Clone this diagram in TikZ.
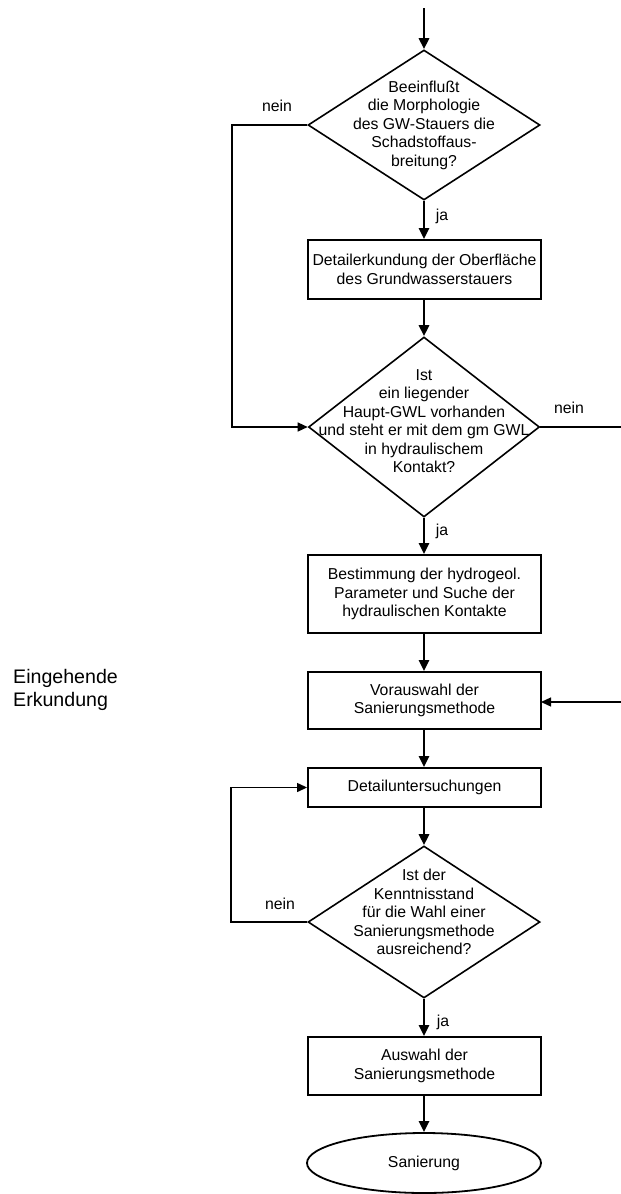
\documentclass[tikz,border=0pt]{standalone}
\usepackage{fontspec}
\setmainfont{Liberation Sans}
\usetikzlibrary{shapes.geometric,arrows.meta}
\begin{document}
\begin{tikzpicture}[x=1pt,y=-1pt,
  every node/.style={font=\fontsize{15.8}{18.5}\selectfont},
  dia/.style={draw, line width=1.6pt, shape=diamond, inner sep=0pt},
  txt/.style={align=center, inner sep=0pt},
  box/.style={draw, line width=1.9pt, rectangle, minimum width=233pt, align=center, inner sep=0pt},
  flow/.style={line width=2.8pt, -{Triangle[length=11pt,width=10pt]}},
  link/.style={line width=1.3pt},
  linka/.style={line width=1.3pt, -{Triangle[length=10pt,width=9pt]}},
  lbl/.style={inner sep=0pt}]
\useasboundingbox (0,0) rectangle (621,1194);

\coordinate (start) at (424,8);
\node[dia, minimum width=232pt, minimum height=150pt] (d1) at (424,125) {};
\node[txt] (d1t) at (424,125) {Beeinflußt\\die Morphologie\\des GW-Stauers die\\Schadstoffaus-\\breitung?};
\node[box, minimum height=59pt] (b1) at (424.5,269.5) {Detailerkundung der Oberfläche\\des Grundwasserstauers};
\node[dia, minimum width=231pt, minimum height=180pt] (d2) at (424,427) {};
\node[txt] (d2t) at (424,421) {Ist\\ein liegender\\Haupt-GWL vorhanden\\und steht er mit dem gm GWL\\in hydraulischem\\Kontakt?};
\node[box, minimum height=78pt] (b2) at (424.5,594) {Bestimmung der hydrogeol.\\Parameter und Suche der\\hydraulischen Kontakte};
\node[box, minimum height=57pt] (b3) at (424.5,700.5) {Vorauswahl der\\Sanierungsmethode};
\node[box, minimum height=39pt] (b4) at (424.5,787.5) {Detailuntersuchungen};
\node[dia, minimum width=232pt, minimum height=152pt] (d3) at (424,922) {};
\node[txt] (d3t) at (424,912) {Ist der\\Kenntnisstand\\für die Wahl einer\\Sanierungsmethode\\ausreichend?};
\node[box, minimum height=58pt] (b5) at (424.5,1066) {Auswahl der\\Sanierungsmethode};
\node[draw, ellipse, line width=1.8pt, minimum width=234pt, minimum height=60pt, inner sep=0pt] (e) at (424,1163) {Sanierung};

\node[align=left, anchor=west, inner sep=0pt, font=\fontsize{19.6}{22.5}\selectfont] (side) at (13,690) {Eingehende\\Erkundung};

% labels
\node[lbl] (n1) at (277,106) {nein};
\node[lbl] (j1) at (442,216) {ja};
\node[lbl] (n2) at (569,408) {nein};
\node[lbl] (j2) at (442,531) {ja};
\node[lbl] (n3) at (280,904) {nein};
\node[lbl] (j3) at (443,1022) {ja};

% main flow
\draw[flow] (start) -- (d1.north);
\draw[flow] (d1.south) -- (b1.north -| d1.south);
\draw[flow] (b1.south -| d1.south) -- (d2.north);
\draw[flow] (d2.south) -- (b2.north -| d2.south);
\draw[flow] (b2.south -| d2.south) -- (b3.north -| d2.south);
\draw[flow] (b3.south -| d2.south) -- (b4.north -| d2.south);
\draw[flow] (b4.south -| d3.north) -- (d3.north);
\draw[flow] (d3.south) -- (b5.north -| d3.south);
\draw[flow] (b5.south -| d3.south) -- (e.north);

% side loops
\coordinate (l1) at (232,125);
\coordinate (l2) at (232,427);
\draw[linka] (d1.west) -- (l1) -- (l2) -- (d2.west);
\coordinate (l3) at (231,922);
\coordinate (l4) at (231,787.5);
\draw[linka] (d3.west) -- (l3) -- (l4) -- (b4.west);
\coordinate (r1) at (622,427);
\draw[link] (d2.east) -- (r1);
\coordinate (r2) at (622,702);
\coordinate (b3r) at (541,702);
\draw[linka] (r2) -- (b3r);
\end{tikzpicture}
\end{document}
